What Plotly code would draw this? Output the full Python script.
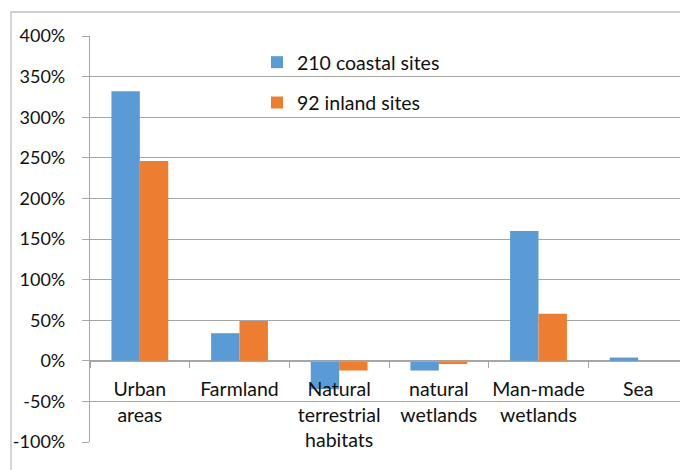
import plotly.graph_objects as go

categories = ["Urban<br>areas", "Farmland", "Natural<br>terrestrial<br>habitats",
              "natural<br>wetlands", "Man-made<br>wetlands", "Sea"]
coastal = [332, 34, -35, -12, 160, 4]
inland = [246, 49, -12, -4, 58, 0]
y_ticks = [-100, -50, 0, 50, 100, 150, 200, 250, 300, 350, 400]
y_ticktext = [f"{v}%" for v in y_ticks]

FONT = "Lato"
GRID = "#a6a6a6"

fig = go.Figure()
fig.add_trace(go.Bar(name="210 coastal sites", x=categories, y=coastal,
                     marker=dict(color="#5B9BD5", line=dict(width=0)),
                     legendgroup="a"))
fig.add_trace(go.Bar(name="92 inland sites", x=categories, y=inland,
                     marker=dict(color="#ED7D31", line=dict(width=0)),
                     legendgroup="b"))

# page body has an 8px margin, so the figure is sized/offset to compensate
fig.update_layout(
    width=680, height=462,
    margin=dict(l=82, r=0, t=28, b=28, autoexpand=False),
    paper_bgcolor="white", plot_bgcolor="white",
    font=dict(family=FONT, size=19, color="#111111"),
    barmode="group", bargap=0.43, bargroupgap=0,
    legend=dict(x=(257 - 90) / 598, y=(442 - 43) / 406, xanchor="left", yanchor="top",
                traceorder="grouped", tracegroupgap=12,
                bgcolor="rgba(0,0,0,0)", font=dict(size=19.5)),
    xaxis=dict(type="category", anchor="free", position=0.2,
               showline=True, linecolor=GRID, linewidth=1.3,
               ticks="outside", tickson="boundaries", ticklen=6, tickcolor=GRID,
               showgrid=False, ticklabelstandoff=11, tickangle=0,
               automargin=False, tickfont=dict(size=19.5)),
    yaxis=dict(range=[-100, 400], tickvals=y_ticks, ticktext=y_ticktext,
               showgrid=True, gridcolor=GRID, gridwidth=1.3, zeroline=False,
               showline=True, linecolor=GRID, linewidth=1.3,
               ticks="outside", ticklen=7, tickcolor=GRID, automargin=False,
               ticklabelstandoff=13, tickfont=dict(size=18)),
)

# outer chart border (extends past right/bottom edges like the reference)
fig.add_shape(type="rect", xref="paper", yref="paper",
              x0=(11 - 90) / 598, x1=(700 - 90) / 598,
              y0=(442 - 480) / 406, y1=(442 - 12) / 406,
              line=dict(color="#bfbfbf", width=1.3), layer="below")

fig.write_html("out.html")
